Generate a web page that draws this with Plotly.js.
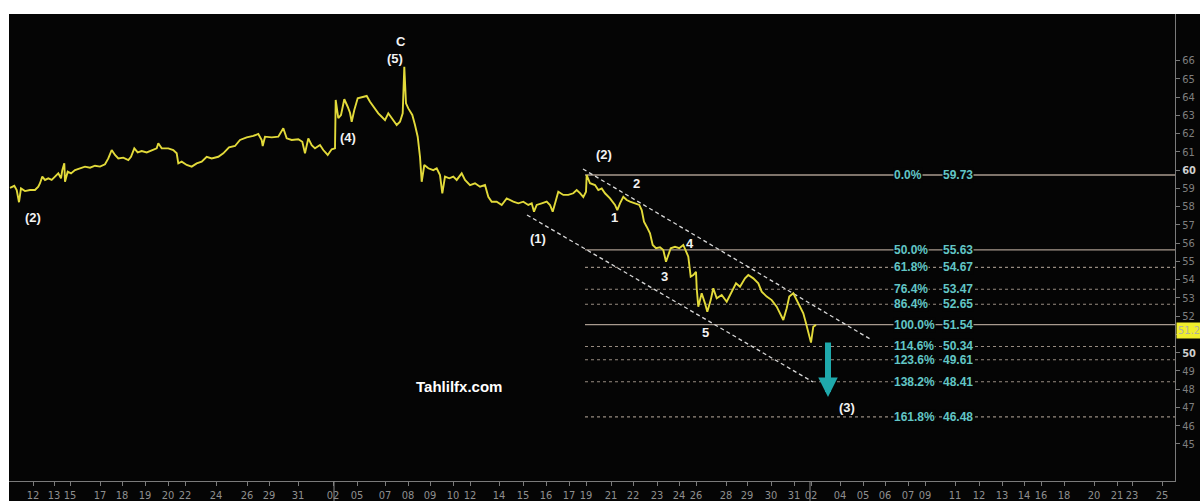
<!DOCTYPE html>
<html>
<head>
<meta charset="utf-8">
<script src="https://cdn.plot.ly/plotly-3.0.1.min.js"></script>
<style>
html,body{margin:0;padding:0;background:#ffffff;width:1200px;height:501px;overflow:hidden;}
#chart{position:absolute;left:9px;top:14px;width:1191px;height:487px;}
</style>
</head>
<body>
<div id="chart"></div>
<script>
// ---- DATA (x = session-time position on the trading axis, y = price) ----
const priceX = [10,14.3,16.7,19,21,25,30,35,38.3,40,42.3,45,48.3,51.7,55,58.3,61,62.3,64.3,65,67.7,71,75,80,85,90,95,100,105,108.3,111.7,115,118.3,123.3,128.3,131,134.3,137.7,141.7,146.7,151.7,156.7,158.3,161.7,168.3,173.3,176.7,178.3,181.7,186.7,191.7,196.7,201.7,206.7,211.7,218.3,223.3,
  229,235,240,246.7,253.3,258.3,261.7,262.7,265,271.7,278.3,283.3,286.7,291.7,298.3,302.3,305,308.3,311.7,315,320,323.3,327.7,331.7,335,335.7,338.3,341,344.3,347.7,350,351.7,354.3,357.7,366.7,370,373.3,378.3,381.7,385,388.3,391.7,396.7,400,402.7,404.3,406,408.3,412.3,415,417.7,420,421.7,424.3,428.3,433.3,
  436.7,440,442.3,445,449.3,453.3,456.7,461.7,465,470,475,480,485,488.3,491.7,496.7,501.7,506.7,510,513.3,518.3,523.3,528.3,531.7,534,536.7,541.7,546.7,550,552.7,556,558.3,563.3,568.3,573.3,576.7,580,583.3,586,586.7,
  590,595,598.3,601.7,605,610,615,617.3,620,623.3,626.7,630,635,639.3,641.7,644,646.7,650,652.7,656,660,663.3,666,668.3,670.7,675,679.3,683.3,686,688.3,690.7,693.3,696,696.7,698.3,701.7,705,707.3,710.7,713.3,716.7,721.7,726.7,731.7,736,740,745,748.3,753.3,758.3,761.7,766.7,771.7,776.7,780,783.3,786.7,789.3,793.3,796.7,800,803.3,806,808.3,811,813.3,816];
const priceY = [59.03,59.14,58.91,58.24,59.00,58.85,58.91,58.91,59.09,59.28,59.64,59.46,59.55,59.46,59.64,59.82,59.55,60.00,60.37,59.36,59.91,59.82,60.00,60.10,60.19,60.13,60.24,60.19,60.32,60.64,61.10,60.83,60.64,60.68,60.55,60.73,61.19,60.97,61.04,60.97,61.10,61.19,61.47,61.19,61.19,61.10,60.92,60.37,60.46,60.28,60.19,60.37,60.46,60.73,60.64,60.73,60.92,
  61.25,61.32,61.65,61.79,61.87,61.98,61.65,61.32,61.83,61.79,61.83,62.29,61.74,61.65,61.69,61.55,60.92,61.74,61.37,61.19,61.37,61.10,60.83,61.14,61.19,63.84,62.84,63.02,63.88,63.47,63.14,62.65,63.29,63.93,64.06,63.74,63.47,63.11,62.92,62.74,63.11,62.84,62.47,62.65,63.11,65.66,63.66,63.38,63.02,62.47,61.83,60.73,59.36,60.28,60.10,60.00,
  60.10,59.73,58.73,59.64,59.55,59.64,59.46,59.82,59.46,59.18,59.28,59.09,59.18,58.54,58.27,58.27,58.09,58.45,58.36,58.27,58.18,58.27,58.09,58.18,57.72,58.09,58.18,58.27,58.09,57.72,58.36,58.82,58.64,58.64,58.73,58.91,58.74,58.52,58.82,59.73,
  59.28,59.18,58.91,59.00,58.73,58.45,58.09,57.81,58.18,58.54,58.36,58.27,58.18,58.09,57.81,57.17,56.90,56.54,55.90,55.72,55.77,55.62,54.98,55.35,55.72,55.80,55.72,55.90,55.53,55.26,54.16,54.25,54.43,53.53,52.52,53.25,52.70,52.24,52.88,53.53,52.98,53.16,52.79,53.34,53.80,53.61,54.07,54.25,54.07,53.80,53.34,53.07,52.88,52.52,52.16,51.79,52.43,53.07,53.25,52.88,52.52,52.16,51.61,51.06,50.55,51.42,51.52];

const tickPos = [33,54,70,100,122,145,168,185,216,247,269,298,333,357,385,408,430,453,470,499,523,546,569,586,611,633,657,679,696,726,747,771,794,811,840,863,885,908,925,955,979,1002,1024,1041,1064,1094,1117,1132,1162];
const tickLabels = ['12','13','15','17','18','19','20','22','24','26','29','31','02','05','07','08','09','10','12','14','15','16','17','19','21','22','23','24','26','28','29','30','31','02','04','05','06','07','09','11','12','13','14','16','18','20','21','23','25'];
const months = ['December 2019','January 2020','February 2020'];
const monthPos = [150,565,993];
const monthBreaks = [334,810];

const priceTicks = [45,46,47,48,49,50,51,52,53,54,55,56,57,58,59,60,61,62,63,64,65,66];

const fibPct = ['0.0%','50.0%','61.8%','76.4%','86.4%','100.0%','114.6%','123.6%','138.2%','161.8%'];
const fibVal = [59.73,55.63,54.67,53.47,52.65,51.54,50.34,49.61,48.41,46.48];
const fibStartX = 585;
const fibEndX = 1175;
const fibPctX = 893;
const fibValX = 942;

const upperChannelX = [583,870];
const upperChannelY = [60.06,50.75];
const lowerChannelX = [527,813];
const lowerChannelY = [57.54,48.39];

const waveText = ['C','(5)','(4)','(2)','(2)','2','1','(1)','4','3','5','(3)'];
const waveX    = [401,395,348,33,604,636,614,538,690,664,705,847];
const waveY    = [67.07,66.14,61.76,57.43,60.88,59.29,57.38,56.24,55.96,54.15,51.08,47.02];

const arrowX = 828;
const arrowFrom = 50.64;
const arrowTo = 47.57;
const lastPrice = 51.21;
const watermark = 'Tahlilfx.com';
const watermarkX = 459;
const watermarkY = 48.13;

// ---- TRACES ----
const traces = [];
fibVal.forEach((v, i) => {
  const solid = ['0.0%','50.0%','100.0%'].includes(fibPct[i]);
  traces.push({
    x: [fibStartX, fibEndX], y: [v, v], mode: 'lines', hoverinfo: 'skip',
    line: {color: solid ? '#a89a8e' : '#978b80', width: solid ? 1.3 : 1.1, dash: solid ? 'solid' : '3px,3px'}
  });
});
traces.push({x: upperChannelX, y: upperChannelY, mode: 'lines', line: {color: '#d8d8d8', width: 1.3, dash: '4px,3px'}, hoverinfo: 'skip'});
traces.push({x: lowerChannelX, y: lowerChannelY, mode: 'lines', line: {color: '#d8d8d8', width: 1.3, dash: '4px,3px'}, hoverinfo: 'skip'});
traces.push({x: priceX, y: priceY, mode: 'lines', line: {color: '#e2da3a', width: 1.9}, hoverinfo: 'skip'});

// ---- ANNOTATIONS ----
const ann = [];
const fibFont = {family: 'Liberation Sans, Arial, sans-serif', size: 12, color: '#62c6c6'};
fibVal.forEach((v, i) => {
  ann.push({x: fibPctX, y: v, xref: 'x', yref: 'y', text: '<b>' + fibPct[i] + '</b>', showarrow: false, xanchor: 'left', yanchor: 'middle', bgcolor: '#050505', borderpad: 0, font: fibFont});
  ann.push({x: fibValX, y: v, xref: 'x', yref: 'y', text: '<b>' + v.toFixed(2) + '</b>', showarrow: false, xanchor: 'left', yanchor: 'middle', bgcolor: '#050505', borderpad: 0, font: fibFont});
});
waveText.forEach((t, i) => {
  ann.push({x: waveX[i], y: waveY[i], xref: 'x', yref: 'y', text: '<b>' + t + '</b>', showarrow: false, xanchor: 'center', yanchor: 'middle',
    font: {family: 'Liberation Sans, Arial, sans-serif', size: 13, color: '#f2f2f2'}});
});
ann.push({x: watermarkX, y: watermarkY, xref: 'x', yref: 'y', text: '<b>' + watermark + '</b>', showarrow: false,
  font: {family: 'Liberation Sans, Arial, sans-serif', size: 15, color: '#ffffff'}});
ann.push({x: arrowX, y: arrowTo, ax: arrowX, ay: arrowFrom, xref: 'x', yref: 'y', axref: 'x', ayref: 'y', text: '',
  showarrow: true, arrowhead: 2, arrowsize: 0.65, arrowwidth: 6, arrowcolor: '#1fa9ac'});
months.forEach((m, i) => {
  ann.push({x: monthPos[i], y: -0.036, xref: 'x', yref: 'paper', text: m, showarrow: false, xanchor: 'center', yanchor: 'top',
    font: {family: 'DejaVu Sans Condensed, Liberation Sans Narrow, sans-serif', size: 12, color: '#b8b8b8'}});
});
ann.push({x: 1, y: lastPrice, xref: 'paper', yref: 'y', xanchor: 'left', xshift: 1, text: lastPrice.toFixed(2), showarrow: false,
  bgcolor: '#f0ee2c', borderpad: 1, font: {family: 'DejaVu Sans Condensed, sans-serif', size: 11, color: '#b0b0a0'}});

const shapes = monthBreaks.map(xb => ({type: 'line', xref: 'x', yref: 'paper', x0: xb, x1: xb, y0: 0, y1: -0.075, line: {color: '#888', width: 1}}));

const layout = {
  width: 1191, height: 487,
  margin: {l: 0, r: 25, t: 0, b: 20, pad: 0},
  paper_bgcolor: '#050505', plot_bgcolor: '#050505',
  showlegend: false,
  xaxis: {
    range: [9, 1175], showgrid: false, zeroline: false, showline: true, linecolor: '#7a7a7a', linewidth: 1,
    ticks: 'outside', ticklen: 4, tickcolor: '#7a7a7a', tickvals: tickPos, ticktext: tickLabels, tickangle: 0,
    tickfont: {family: 'DejaVu Sans Condensed, Liberation Sans Narrow, sans-serif', size: 11, color: '#8f8f8f'}, fixedrange: true
  },
  yaxis: {
    range: [42.97, 68.55], side: 'right', showgrid: false, zeroline: false, showline: true, linecolor: '#7a7a7a', linewidth: 1,
    ticks: 'outside', ticklen: 4, tickcolor: '#7a7a7a', tickvals: priceTicks,
    ticktext: priceTicks.map(v => (v % 10 === 0) ? '<b><span style="color:#cfcfcf">' + v + '</span></b>' : String(v)),
    tickfont: {family: 'DejaVu Sans Condensed, Liberation Sans Narrow, sans-serif', size: 11, color: '#7f7f7f'}, fixedrange: true
  },
  annotations: ann,
  shapes: shapes
};

Plotly.newPlot('chart', traces, layout, {displayModeBar: false, staticPlot: true});
</script>
</body>
</html>
